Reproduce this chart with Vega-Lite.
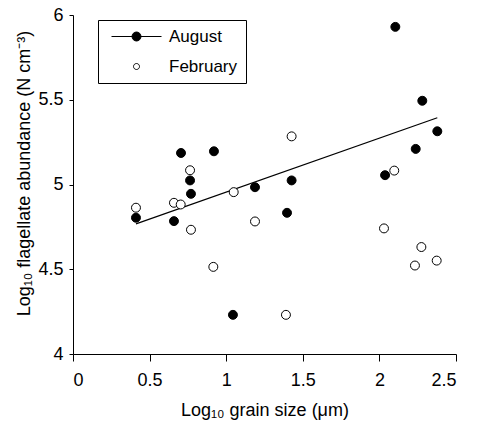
{
  "$schema": "https://vega.github.io/schema/vega-lite/v6.json",
  "autosize": "none",
  "padding": {"left": 73, "top": 15, "right": 23, "bottom": 68},
  "width": 383,
  "height": 339,
  "background": "white",
  "config": {
    "view": {"stroke": null},
    "axis": {
      "grid": false,
      "domainColor": "black",
      "tickColor": "black",
      "domainWidth": 1,
      "tickWidth": 1,
      "labelFont": "Liberation Sans",
      "labelFontSize": 18,
      "labelColor": "black",
      "titleFont": "Liberation Sans",
      "titleFontSize": 18,
      "titleFontWeight": "normal",
      "titleColor": "black"
    }
  },
  "datasets": {
    "obs": [
      {"month": "August", "grain": 0.411, "abund": 4.804},
      {"month": "August", "grain": 0.659, "abund": 4.784},
      {"month": "August", "grain": 0.705, "abund": 5.186},
      {"month": "August", "grain": 0.764, "abund": 5.024},
      {"month": "August", "grain": 0.770, "abund": 4.945},
      {"month": "August", "grain": 0.920, "abund": 5.196},
      {"month": "August", "grain": 1.044, "abund": 4.231},
      {"month": "August", "grain": 1.188, "abund": 4.984},
      {"month": "August", "grain": 1.397, "abund": 4.833},
      {"month": "August", "grain": 1.427, "abund": 5.024},
      {"month": "August", "grain": 2.037, "abund": 5.055},
      {"month": "August", "grain": 2.104, "abund": 5.93},
      {"month": "August", "grain": 2.237, "abund": 5.21},
      {"month": "August", "grain": 2.280, "abund": 5.494},
      {"month": "August", "grain": 2.378, "abund": 5.314},
      {"month": "February", "grain": 0.411, "abund": 4.863},
      {"month": "February", "grain": 0.659, "abund": 4.892},
      {"month": "February", "grain": 0.703, "abund": 4.882},
      {"month": "February", "grain": 0.764, "abund": 5.084},
      {"month": "February", "grain": 0.770, "abund": 4.733},
      {"month": "February", "grain": 0.916, "abund": 4.514},
      {"month": "February", "grain": 1.049, "abund": 4.955},
      {"month": "February", "grain": 1.188, "abund": 4.782},
      {"month": "February", "grain": 1.390, "abund": 4.231},
      {"month": "February", "grain": 1.427, "abund": 5.284},
      {"month": "February", "grain": 2.030, "abund": 4.741},
      {"month": "February", "grain": 2.097, "abund": 5.082},
      {"month": "February", "grain": 2.232, "abund": 4.522},
      {"month": "February", "grain": 2.274, "abund": 4.631},
      {"month": "February", "grain": 2.374, "abund": 4.551}
    ],
    "fit": [
      {"grain": 0.411, "abund": 4.768},
      {"grain": 2.378, "abund": 5.394}
    ]
  },
  "layer": [
    {
      "data": {"name": "fit"},
      "mark": {"type": "line", "color": "black", "strokeWidth": 1.2},
      "encoding": {
        "x": {"field": "grain", "type": "quantitative"},
        "y": {"field": "abund", "type": "quantitative"}
      }
    },
    {
      "data": {"name": "obs"},
      "mark": {"type": "point", "filled": true, "size": 80, "stroke": "black", "strokeWidth": 1, "opacity": 1},
      "encoding": {
        "x": {
          "field": "grain", "type": "quantitative",
          "scale": {"domain": [0, 2.5], "nice": false, "zero": false},
          "axis": {
            "title": "Log₁₀ grain size (μm)",
            "values": [0, 0.5, 1, 1.5, 2, 2.5],
            "format": "~g",
            "tickSize": 7,
            "labelPadding": 10,
            "titleBaseline": "alphabetic",
            "titleY": 61
          }
        },
        "y": {
          "field": "abund", "type": "quantitative",
          "scale": {"domain": [4, 6], "nice": false, "zero": false},
          "axis": {
            "title": "Log₁₀ flagellate abundance (N cm⁻³)",
            "values": [4, 4.5, 5, 5.5, 6],
            "format": "~g",
            "tickSize": 4,
            "labelPadding": 6,
            "titleBaseline": "alphabetic",
            "titleX": -44,
            "titleY": 158
          }
        },
        "fill": {
          "field": "month", "type": "nominal",
          "scale": {"domain": ["August", "February"], "range": ["black", "white"]},
          "legend": {
            "title": null,
            "orient": "none",
            "legendX": 25,
            "legendY": 5,
            "direction": "vertical",
            "strokeColor": "black",
            "fillColor": "white",
            "padding": 8,
            "symbolSize": 100,
            "symbolType": {"expr": "datum.value === 'August' ? 'M-5,0L5,0M0.9,0A0.9,0.9,0,1,1,-0.9,0A0.9,0.9,0,1,1,0.9,0Z' : 'M0.6,0A0.6,0.6,0,1,1,-0.6,0A0.6,0.6,0,1,1,0.6,0Z'"},
            "symbolOffset": 22,
            "labelOffset": 24,
            "rowPadding": 12,
            "labelFont": "Liberation Sans",
            "labelFontSize": 17,
            "labelColor": "black",
            "symbolStrokeColor": "black",
            "symbolStrokeWidth": 1,
            "encode": {
              "symbols": {
                "stroke": {"value": "black"},
                "strokeWidth": {"value": 1},
                "opacity": {"value": 1}
              }
            }
          }
        }
      }
    }
  ]
}
